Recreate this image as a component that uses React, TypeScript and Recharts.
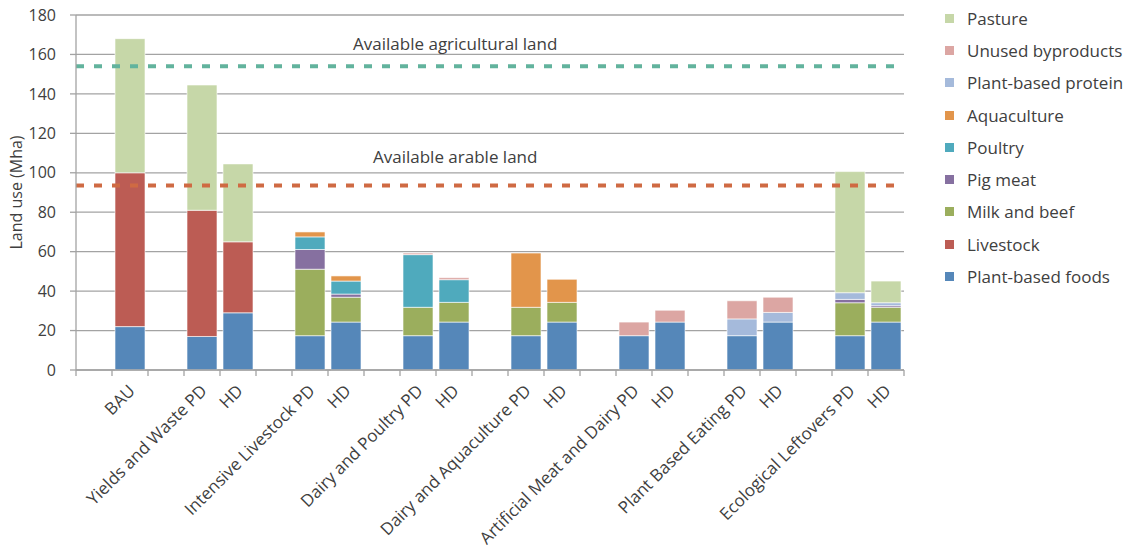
import { BarChart, Bar, XAxis, YAxis, CartesianGrid, ReferenceLine } from "recharts"

// scenario slots (blank entries are the spacers between groups)
const scenarios = [
  "", "BAU", "",
  "Yields and Waste PD", "HD", "",
  "Intensive Livestock PD", "HD", "",
  "Dairy and Poultry PD", "HD", "",
  "Dairy and Aquaculture PD", "HD", "",
  "Artificial Meat and Dairy PD", "HD", "",
  "Plant Based Eating PD", "HD", "",
  "Ecological Leftovers PD", "HD",
]

const plantBasedFoods = [0, 22, 0, 17, 29, 0, 17.4, 24.3, 0, 17.4, 24.3, 0, 17.4, 24.3, 0, 17.4, 24.3, 0, 17.4, 24.3, 0, 17.4, 24.3]
const livestock = [0, 78, 0, 64, 36, 0, 0, 0, 0, 0, 0, 0, 0, 0, 0, 0, 0, 0, 0, 0, 0, 0, 0]
const milkAndBeef = [0, 0, 0, 0, 0, 0, 33.7, 12.6, 0, 14.4, 10, 0, 14.4, 10, 0, 0, 0, 0, 0, 0, 0, 16.7, 7.5]
const pigMeat = [0, 0, 0, 0, 0, 0, 10, 1.6, 0, 0, 0, 0, 0, 0, 0, 0, 0, 0, 0, 0, 0, 1.7, 0.8]
const poultry = [0, 0, 0, 0, 0, 0, 6.4, 6.6, 0, 26.7, 11.5, 0, 0, 0, 0, 0, 0, 0, 0, 0, 0, 0, 0]
const aquaculture = [0, 0, 0, 0, 0, 0, 2.5, 2.6, 0, 0, 0, 0, 27.5, 11.7, 0, 0, 0, 0, 0, 0, 0, 0, 0]
const plantBasedProtein = [0, 0, 0, 0, 0, 0, 0, 0, 0, 0, 0, 0, 0, 0, 0, 0, 0, 0, 8.5, 4.9, 0, 3.4, 1.5]
const unusedByproducts = [0, 0, 0, 0, 0, 0, 0, 0, 0, 0.8, 1.0, 0, 0, 0, 0, 6.9, 6.0, 0, 9.2, 7.7, 0, 0, 0]
const pasture = [0, 68, 0, 63.5, 39.5, 0, 0, 0, 0, 0, 0, 0, 0, 0, 0, 0, 0, 0, 0, 0, 0, 61.4, 11]

const yTicks = [0, 20, 40, 60, 80, 100, 120, 140, 160, 180]

const agriculturalLand = 154
const arableLand = 93.5

// stack order, bottom to top
const series = [
  { key: "plantFoods", name: "Plant-based foods", values: plantBasedFoods, color: "#5587b9" },
  { key: "livestock", name: "Livestock", values: livestock, color: "#bc5c54" },
  { key: "milkBeef", name: "Milk and beef", values: milkAndBeef, color: "#9bae5d" },
  { key: "pig", name: "Pig meat", values: pigMeat, color: "#8670a0" },
  { key: "poultry", name: "Poultry", values: poultry, color: "#4faabd" },
  { key: "aqua", name: "Aquaculture", values: aquaculture, color: "#e2954b" },
  { key: "protein", name: "Plant-based protein", values: plantBasedProtein, color: "#a5badb" },
  { key: "unused", name: "Unused byproducts", values: unusedByproducts, color: "#dca6a3" },
  { key: "pasture", name: "Pasture", values: pasture, color: "#c6d7a8" },
]

const data = scenarios.map((name, i) => {
  const row: Record<string, string | number> = { name }
  series.forEach((s) => {
    row[s.key] = s.values[i]
  })
  return row
})

const FONT = "'Open Sans', sans-serif"
const TEXT = "#404040"
const AXIS = "#a3a3a3"
const WIDTH = 1128
const HEIGHT = 550
const MARGIN = { top: 15, right: 224, bottom: 0, left: 0 }
const Y_AXIS_WIDTH = 76
const band = (WIDTH - MARGIN.right - Y_AXIS_WIDTH) / scenarios.length

function XTick(props: any) {
  const { x, y, payload, index } = props
  const half = band / 2
  return (
    <g>
      <line x1={x - half} x2={x - half} y1={y - 6} y2={y} stroke={AXIS} strokeWidth={1.3} />
      {index === scenarios.length - 1 && (
        <line x1={x + half} x2={x + half} y1={y - 6} y2={y} stroke={AXIS} strokeWidth={1.3} />
      )}
      <text
        x={x + 6}
        y={y + 16}
        textAnchor="end"
        transform={`rotate(-45, ${x + 6}, ${y + 16})`}
        fontSize={17}
        fontFamily={FONT}
        fill={TEXT}
      >
        {payload.value}
      </text>
    </g>
  )
}

function RefLabel(text: string, lift: number) {
  return (props: any) => {
    const { viewBox } = props
    return (
      <text
        x={viewBox.x + viewBox.width * 0.458}
        y={viewBox.y - lift}
        textAnchor="middle"
        fontSize={17}
        fontFamily={FONT}
        fill={TEXT}
      >
        {text}
      </text>
    )
  }
}

function LegendList() {
  return (
    <div style={{ position: "absolute", left: 945, top: 2, fontFamily: FONT, fontSize: 17, color: TEXT }}>
      {[...series].reverse().map((s) => (
        <div key={s.key} style={{ display: "flex", alignItems: "center", height: 32.3 }}>
          <span style={{ width: 9, height: 9, background: s.color, marginRight: 13, display: "inline-block" }} />
          <span>{s.name}</span>
        </div>
      ))}
    </div>
  )
}

export default function App() {
  return (
    <div style={{ position: "relative", width: WIDTH, height: HEIGHT, background: "#fff" }}>
      <style>{"body{margin:0}"}</style>
      <BarChart width={WIDTH} height={HEIGHT} data={data} margin={MARGIN} barCategoryGap={3}>
        <CartesianGrid vertical={false} stroke={AXIS} strokeWidth={1.3} />
        <XAxis
          dataKey="name"
          height={180}
          interval={0}
          tickLine={false}
          tickSize={6}
          tickMargin={0}
          axisLine={{ stroke: AXIS, strokeWidth: 1.3 }}
          tick={<XTick />}
        />
        <YAxis
          width={Y_AXIS_WIDTH}
          domain={[0, 180]}
          ticks={yTicks}
          interval={0}
          tickSize={6}
          tickMargin={14}
          tickLine={{ stroke: AXIS, strokeWidth: 1.3 }}
          axisLine={{ stroke: AXIS, strokeWidth: 1.3 }}
          tick={{ fill: TEXT, fontSize: 16, fontFamily: FONT }}
          label={{
            value: "Land use (Mha)",
            angle: -90,
            position: "insideLeft",
            offset: 16,
            style: { fill: TEXT, fontSize: 16, fontFamily: FONT, textAnchor: "middle" },
          }}
        />
        {series.map((s) => (
          <Bar
            key={s.key}
            dataKey={s.key}
            name={s.name}
            stackId="land"
            fill={s.color}
            stroke="#ffffff"
            strokeOpacity={0.6}
            strokeWidth={1}
            isAnimationActive={false}
          />
        ))}
        <ReferenceLine
          y={agriculturalLand}
          stroke="#62b39d"
          strokeWidth={4}
          strokeDasharray="8 10"
          label={RefLabel("Available agricultural land", 16)}
        />
        <ReferenceLine
          y={arableLand}
          stroke="#cf6a43"
          strokeWidth={4}
          strokeDasharray="8 10"
          label={RefLabel("Available arable land", 23)}
        />
      </BarChart>
      <LegendList />
    </div>
  )
}
